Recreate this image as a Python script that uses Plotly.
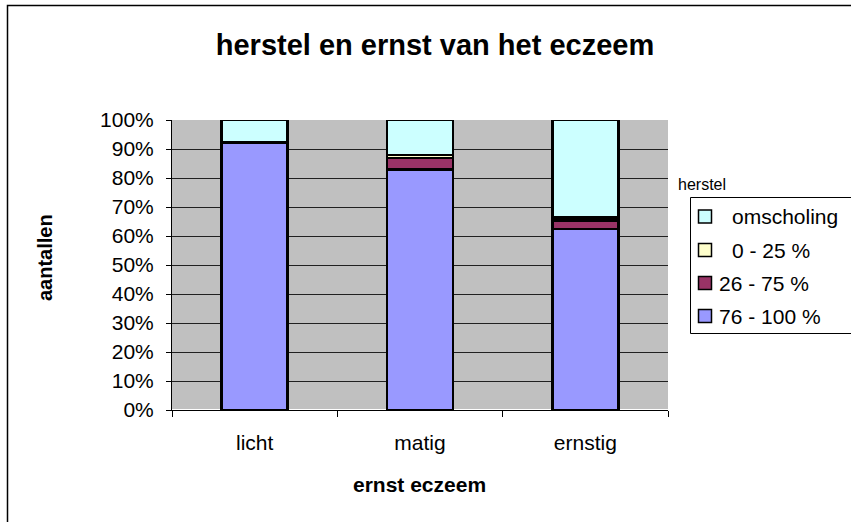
import plotly.graph_objects as go

# ernst van het eczeem
categories = ["licht", "matig", "ernstig"]

# herstel, aandeel per categorie (%)
herstel_76_100 = [92.3, 83.0, 62.5]
herstel_26_75 = [0.0, 3.9, 2.8]
herstel_0_25 = [0.0, 1.0, 1.0]
omscholing = [7.7, 12.1, 33.7]

series = [
    ("76 - 100 %", herstel_76_100, "#9999FF"),
    ("26 - 75 %", herstel_26_75, "#993366"),
    ("0 - 25 %", herstel_0_25, "#FFFFCC"),
    ("omscholing", omscholing, "#CCFFFF"),
]

# plotgebied in pixels
L, R, T, B = 172, 668, 120, 410


def px(x):
    return (x - L) / (R - L)


def py(y):
    return (B - y) / (B - T)


fig = go.Figure()
for name, vals, col in series:
    fig.add_trace(go.Bar(
        x=categories, y=vals, name=name,
        marker=dict(color=col, line=dict(color="black", width=2.5)),
    ))

fig.update_layout(
    barmode="stack",
    bargap=0.6,
    width=851, height=522,
    margin=dict(l=L, r=851 - R, t=T, b=522 - B),
    paper_bgcolor="white",
    plot_bgcolor="#C0C0C0",
    font=dict(family="Liberation Sans, Arial, sans-serif", size=21, color="black"),
    title=dict(text="<b>herstel en ernst van het eczeem</b>", x=(435 / 851), xanchor="center",
               xref="container", yref="container", y=1 - 45 / 522, yanchor="middle",
               font=dict(size=29)),
    showlegend=False,
)

fig.update_yaxes(
    range=[0, 100], dtick=10, ticksuffix="%",
    showgrid=True, gridcolor="#202020", gridwidth=1,
    showline=True, linecolor="black", linewidth=1,
    ticks="outside", ticklen=5, tickcolor="black", ticklabelstandoff=8,
)
fig.update_xaxes(
    showline=True, linecolor="black", linewidth=1,
    ticks="outside", ticklen=6, tickcolor="black", tickson="boundaries",
    ticklabelstandoff=14,
)

# as-titels
fig.add_annotation(text="<b>aantallen</b>", xref="paper", yref="paper", x=px(45), y=py(258),
                   xanchor="center", yanchor="middle",
                   textangle=-90, showarrow=False, font=dict(size=20))
fig.add_annotation(text="<b>ernst eczeem</b>", xref="paper", yref="paper", x=px(419), y=py(484),
                   xanchor="center", yanchor="middle", showarrow=False, font=dict(size=21))

# legenda
fig.add_annotation(text="herstel", xref="paper", yref="paper", x=px(676), y=py(184),
                   xanchor="left", yanchor="middle", showarrow=False, font=dict(size=16))
fig.add_shape(type="rect", xref="paper", yref="paper",
              x0=px(690.5), x1=px(856), y0=py(333.5), y1=py(197.5),
              line=dict(color="black", width=1), fillcolor="white")
leg_y = [316, 283, 250, 216.5]
leg_x = [717, 717, 730, 730]
for (name, vals, col), yc, xt in zip(series, leg_y, leg_x):
    fig.add_shape(type="rect", xref="paper", yref="paper",
                  x0=px(698.5), x1=px(711.5), y0=py(yc + 6.5), y1=py(yc - 6.5),
                  line=dict(color="black", width=1.5), fillcolor=col)
    fig.add_annotation(text=name, xref="paper", yref="paper", x=px(xt), y=py(yc),
                       xanchor="left", yanchor="middle", showarrow=False, font=dict(size=21))

# rand om de grafiek
fig.add_shape(type="rect", xref="paper", yref="paper",
              x0=px(7.5), x1=px(900), y0=py(600), y1=py(5.5),
              line=dict(color="black", width=1.5), fillcolor="rgba(0,0,0,0)", layer="below")

fig.write_html("out.html", config={"displayModeBar": False},
               post_script="document.body.style.margin='0';")
